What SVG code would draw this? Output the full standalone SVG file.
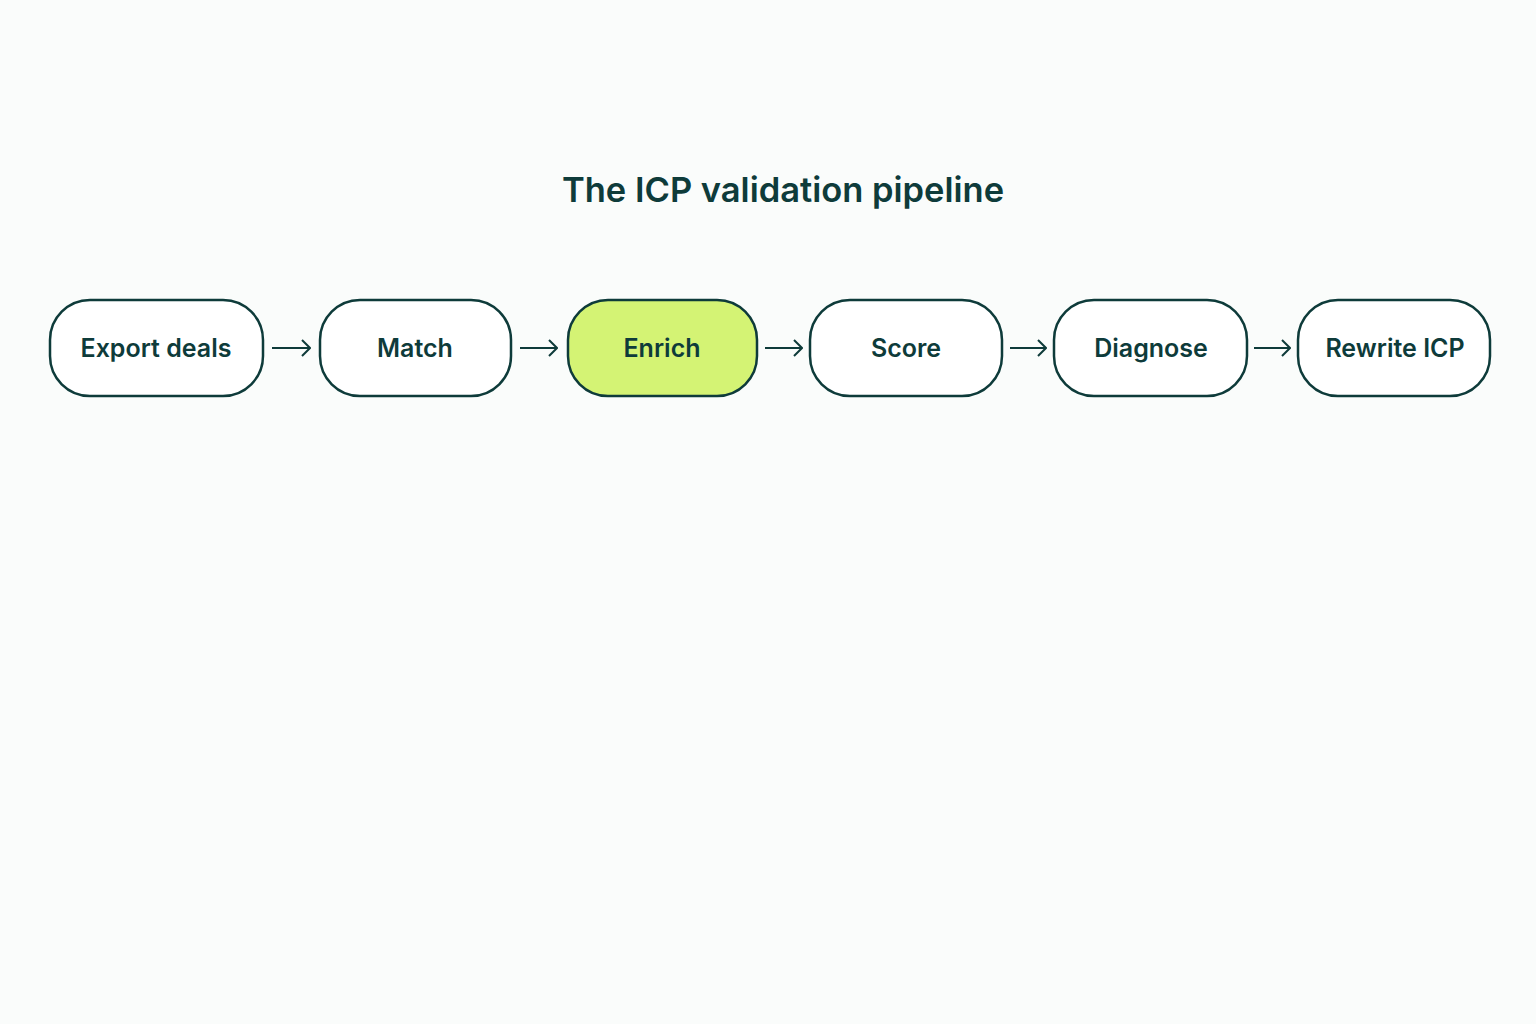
<svg xmlns="http://www.w3.org/2000/svg" width="1536" height="1024" viewBox="0 0 1536 1024">
<style>
.node rect{fill:#ffffff;stroke:#0e3b3a;stroke-width:2.5}
.node.hl rect{fill:#d4f374}
.node text{font-family:Inter,"Noto Sans",sans-serif;font-weight:600;font-size:25px;fill:#0e3b3a;text-anchor:middle;dominant-baseline:central}
.title{font-family:Inter,"Noto Sans",sans-serif;font-weight:600;font-size:34.5px;fill:#0e3b3a;text-anchor:middle}
.conn line{stroke:#0e3b3a;stroke-width:2;fill:none}
</style>
<defs>
<marker id="arr" viewBox="0 0 16 18" refX="15" refY="9" markerWidth="16" markerHeight="18" markerUnits="userSpaceOnUse" orient="auto">
<path d="M7,1 L15,9 L7,17" fill="none" stroke="#0e3b3a" stroke-width="2"/>
</marker>
</defs>
<rect width="1536" height="1024" fill="#fafcfb"/>
<text class="title" x="783" y="202">The ICP validation pipeline</text>
<g id="n1" class="node"><rect x="50" y="300" width="213" height="96" rx="40"/><text x="156" y="348">Export deals</text></g>
<g id="n2" class="node"><rect x="320" y="300" width="191" height="96" rx="40"/><text x="415" y="348">Match</text></g>
<g id="n3" class="node hl"><rect x="568" y="300" width="189" height="96" rx="40"/><text x="662" y="348">Enrich</text></g>
<g id="n4" class="node"><rect x="810" y="300" width="192" height="96" rx="40"/><text x="906" y="348">Score</text></g>
<g id="n5" class="node"><rect x="1054" y="300" width="193" height="96" rx="40"/><text x="1151" y="348">Diagnose</text></g>
<g id="n6" class="node"><rect x="1298" y="300" width="192" height="96" rx="40"/><text x="1395" y="348">Rewrite ICP</text></g>
<g id="connectors" class="conn">
<line x1="272" y1="348" x2="310" y2="348" marker-end="url(#arr)"/>
<line x1="520" y1="348" x2="557" y2="348" marker-end="url(#arr)"/>
<line x1="765" y1="348" x2="802" y2="348" marker-end="url(#arr)"/>
<line x1="1010" y1="348" x2="1046" y2="348" marker-end="url(#arr)"/>
<line x1="1254" y1="348" x2="1290" y2="348" marker-end="url(#arr)"/>
</g>
</svg>
